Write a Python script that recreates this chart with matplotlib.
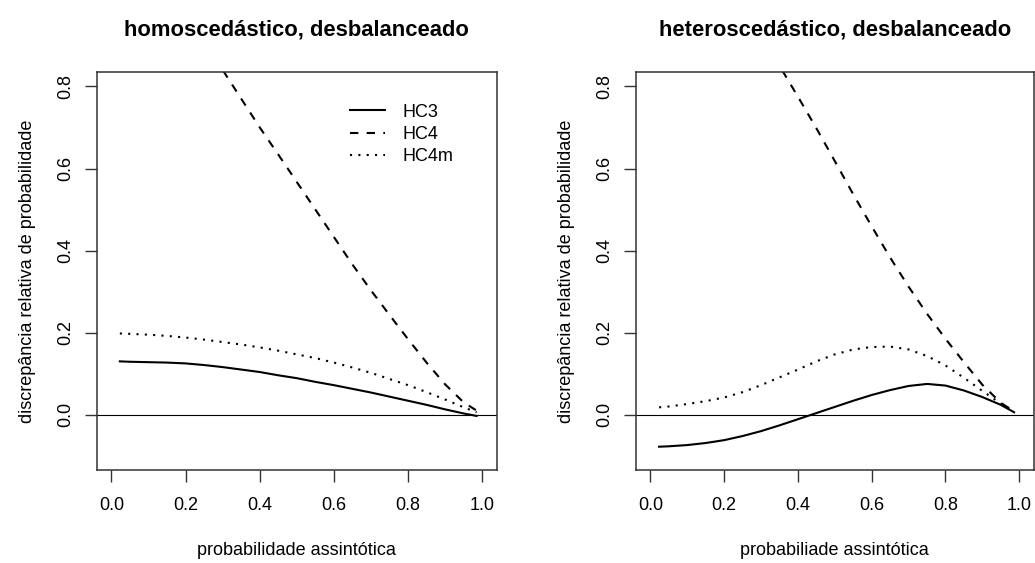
import matplotlib
matplotlib.use("Agg")
import matplotlib.pyplot as plt

plt.rcParams["font.family"] = ["Liberation Sans", "DejaVu Sans"]

# asymptotic probability grid (left and right panels)
x_homo = [0.0225, 0.05, 0.1, 0.15, 0.2, 0.25, 0.3, 0.35, 0.4, 0.45, 0.5,
          0.55, 0.6, 0.65, 0.7, 0.75, 0.8, 0.85, 0.9, 0.95, 0.985]
x_hetero = [0.0235, 0.05, 0.1, 0.15, 0.2, 0.25, 0.3, 0.35, 0.4, 0.45, 0.5,
            0.55, 0.6, 0.65, 0.7, 0.75, 0.8, 0.85, 0.9, 0.95, 0.986]

# relative probability discrepancy, homoscedastic unbalanced design
hc3_homo = [0.130, 0.129, 0.128, 0.127, 0.125, 0.121, 0.116, 0.110, 0.104, 0.096, 0.089,
            0.080, 0.072, 0.063, 0.054, 0.044, 0.034, 0.024, 0.013, 0.003, -0.003]
hc4_homo = [1.28, 1.23, 1.15, 1.07, 0.99, 0.915, 0.84, 0.77, 0.70, 0.634, 0.567,
            0.500, 0.433, 0.366, 0.303, 0.243, 0.184, 0.127, 0.074, 0.030, 0.010]
hc4m_homo = [0.198, 0.197, 0.195, 0.192, 0.188, 0.183, 0.177, 0.171, 0.164, 0.156, 0.147,
             0.138, 0.127, 0.115, 0.102, 0.087, 0.072, 0.055, 0.037, 0.018, 0.006]

# relative probability discrepancy, heteroscedastic unbalanced design
hc3_hetero = [-0.078, -0.077, -0.074, -0.069, -0.062, -0.052, -0.040, -0.026, -0.011, 0.004, 0.019,
              0.034, 0.048, 0.060, 0.070, 0.075, 0.071, 0.059, 0.043, 0.024, 0.006]
hc4_hetero = [1.33, 1.29, 1.22, 1.15, 1.075, 1.0, 0.925, 0.85, 0.775, 0.698, 0.618,
              0.537, 0.459, 0.383, 0.312, 0.246, 0.185, 0.128, 0.073, 0.029, 0.008]
hc4m_hetero = [0.018, 0.020, 0.026, 0.033, 0.042, 0.055, 0.072, 0.091, 0.110, 0.130, 0.147,
               0.159, 0.165, 0.166, 0.159, 0.143, 0.120, 0.090, 0.058, 0.027, 0.008]

panels = [
    ("homoscedástico, desbalanceado", "probabilidade assintótica",
     x_homo, hc3_homo, hc4_homo, hc4m_homo),
    ("heteroscedástico, desbalanceado", "probabiliade assintótica",
     x_hetero, hc3_hetero, hc4_hetero, hc4m_hetero),
]

fig = plt.figure(figsize=(10.35, 5.63), dpi=100)
axes_pos = [[0.0934, 0.1643, 0.3868, 0.7084],
            [0.6142, 0.1643, 0.3848, 0.7084]]

for i, (title, xlabel, x, hc3, hc4, hc4m) in enumerate(panels):
    ax = fig.add_axes(axes_pos[i])
    ax.plot(x, hc3, color="black", lw=1.5, label="HC3")
    ax.plot(x, hc4, color="black", lw=1.5, dashes=(4, 4), label="HC4")
    ax.plot(x, hc4m, color="black", lw=1.5, dashes=(1, 3), label="HC4m")
    ax.axhline(0, color="black", lw=0.8)

    ax.set_xlim(-0.04, 1.04)
    ax.set_ylim(-0.136, 0.836)
    ax.set_xticks([0.0, 0.2, 0.4, 0.6, 0.8, 1.0])
    ax.set_yticks([0.0, 0.2, 0.4, 0.6, 0.8])
    ax.set_xticklabels(["0.0", "0.2", "0.4", "0.6", "0.8", "1.0"])
    ax.set_yticklabels(["0.0", "0.2", "0.4", "0.6", "0.8"], rotation=90, va="center")
    ax.tick_params(direction="out", length=8.3, width=1, labelsize=13, color="#333333")
    ax.tick_params(axis="x", pad=11)
    ax.tick_params(axis="y", pad=8)
    for sp in ax.spines.values():
        sp.set_linewidth(1.1)
        sp.set_color("#333333")

    ax.set_title(title, fontsize=15.8, fontweight="bold", pad=26)
    ax.set_xlabel(xlabel, fontsize=13, va="center")
    ax.xaxis.set_label_coords(0.5, -0.200)
    ax.set_ylabel("discrepância relativa de probabilidade", fontsize=13, va="center")
    ax.yaxis.set_label_coords(-0.174, 0.5)

    if i == 0:
        ax.legend(loc="upper left", bbox_to_anchor=(0.633, 0.92), frameon=False,
                  fontsize=13, handlelength=1.95, handletextpad=0.95,
                  labelspacing=0.3, borderpad=0, borderaxespad=0)

fig.savefig("out.png", dpi=100)
